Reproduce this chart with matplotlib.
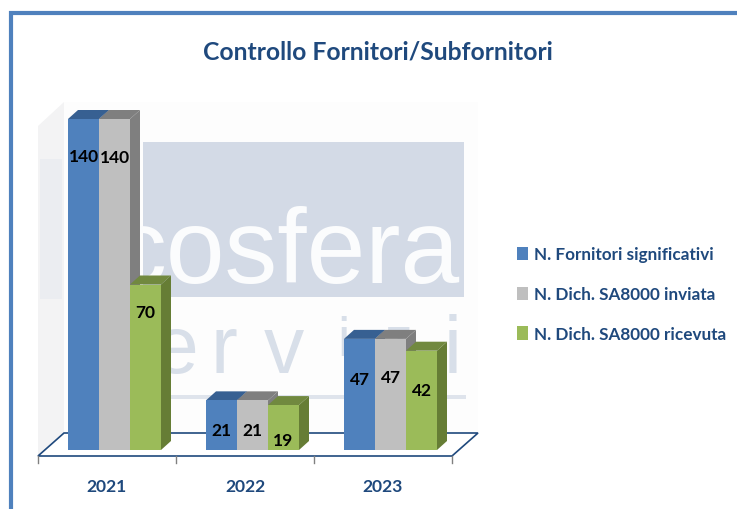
import matplotlib
matplotlib.use("Agg")
import matplotlib.pyplot as plt
import numpy as np
from matplotlib.patches import Patch, Polygon, Rectangle

years = ["2021", "2022", "2023"]
fornitori = [140, 21, 47]
inviata = [140, 21, 47]
ricevuta = [70, 19, 42]
series_names = ["N. Fornitori significativi", "N. Dich. SA8000 inviata", "N. Dich. SA8000 ricevuta"]

FRONT = ["#4f81bd", "#bfbfbf", "#9bbb59"]
TOP = ["#376092", "#7f7f7f", "#71893f"]
SIDE = ["#376092", "#7f7f7f", "#667d35"]
NAVY = "#1f497d"

W, H = 737, 510
PX_X = 138.0      # pixels per category
PX_Y = 331 / 140  # pixels per unit of value
X0, Y0 = 107, 451  # pixel of first category centre, pixel of value 0


def dx(px):
    return (px - X0) / PX_X


def dy(py):
    return (Y0 - py) / PX_Y


fig = plt.figure(figsize=(W / 100, H / 100), dpi=100)
ax = fig.add_axes([0, 0, 1, 1])
ax.set_xlim(dx(0), dx(W))
ax.set_ylim(dy(H), dy(0))
ax.axis("off")


def px_poly(points, **kw):
    ax.add_patch(Polygon([(dx(x), dy(y)) for x, y in points], closed=True, **kw))


def px_rect(x0, y0, x1, y1, **kw):
    ax.add_patch(Rectangle((dx(x0), dy(y1)), (x1 - x0) / PX_X, (y1 - y0) / PX_Y, **kw))


# outer frame
ax.plot([dx(10.5), dx(10.5), dx(W)], [dy(H), dy(13.5), dy(13.5)], color="#4f81bd", lw=3,
        solid_joinstyle="miter", solid_capstyle="butt", zorder=1)

# walls and watermark
px_poly([(38, 127), (64, 103), (64, 434), (38, 457)], fc="#f3f3f4", ec="none", zorder=1)
px_rect(64, 103, 478, 434, fc="#fdfdfd", ec="none", zorder=1)
px_rect(143, 143, 464, 298, fc="#d3dae6", ec="none", zorder=2)
px_rect(40, 160, 62, 300, fc="#ebedf1", ec="none", zorder=2)
ax.text(dx(287), dy(283), "cosfera", ha="center", va="baseline", fontsize=76, color="#fbfcfd",
        family="Liberation Sans", zorder=3)
# z and the first i sit behind the 2023 bars, smaller and higher so only their tops show
for letter, lx, ly, fs in zip("ervizi", [176, 224, 284, 343, 399, 453],
                              [373, 373, 373, 356, 356, 373], [58, 58, 58, 40, 40, 58]):
    ax.text(dx(lx), dy(ly), letter, ha="center", va="baseline", fontsize=fs, color="#d8dfe9",
            family="Liberation Sans", zorder=3)
px_rect(170, 396, 466, 400, fc="#dfe4ec", ec="none", zorder=3)

# floor and category axis
px_poly([(38, 457), (452, 457), (478, 434), (64, 434)], fc="white", ec=NAVY, lw=1.2, zorder=4)
for i in range(len(years) + 1):
    tick = i - 0.5
    ax.plot([tick, tick], [dy(457), dy(464)], color="#808080", lw=1, zorder=4)

# 3d bars, left to right so each one hides the side of the previous
bar_w = 31 / PX_X
depth_x = 10 / PX_X
depth_y = 9 / PX_Y
group_shift = 7.5 / PX_X
all_series = [fornitori, inviata, ricevuta]
label_drop = [[37, 30, 40], [38, 30, 38], [27, 35, 39]]
z = 5
for g in range(len(years)):
    for s, values in enumerate(all_series):
        v = values[g]
        x = g + group_shift + (s - 1) * bar_w
        x0, x1 = x - bar_w / 2, x + bar_w / 2
        ax.add_patch(Polygon([(x0, v), (x1, v), (x1 + depth_x, v + depth_y), (x0 + depth_x, v + depth_y)],
                             closed=True, fc=TOP[s], ec="none", zorder=z))
        ax.add_patch(Polygon([(x1, 0), (x1 + depth_x, depth_y), (x1 + depth_x, v + depth_y), (x1, v)],
                             closed=True, fc=SIDE[s], ec="none", zorder=z))
        ax.bar(x, v, width=bar_w, color=FRONT[s], zorder=z + 0.5)
        ax.text(x, v - label_drop[s][g] / PX_Y, str(v), ha="center", va="center", fontsize=12.5,
                fontweight="bold", family="Lato", color="black", zorder=50)
        z += 1

for i, year in enumerate(years):
    ax.text(i, dy(487), year, ha="center", va="center", fontsize=12.6, fontweight="bold",
            family="Lato", color=NAVY)

ax.text(dx(378), dy(52), "Controllo Fornitori/Subfornitori", ha="center", va="center",
        fontsize=17.8, fontweight="bold", family="Lato", color=NAVY)

handles = [Patch(fc=c, ec="none") for c in FRONT]
ax.legend(handles, series_names, loc="center left", bbox_to_anchor=(512 / W, 1 - 295 / H), frameon=False,
          handlelength=0.65, handleheight=0.8, handletextpad=0.35, labelspacing=1.4, borderpad=0.3,
          borderaxespad=0, labelcolor=NAVY, prop={"family": "Lato", "weight": "bold", "size": 12.3})

fig.savefig("out.png", dpi=100)
